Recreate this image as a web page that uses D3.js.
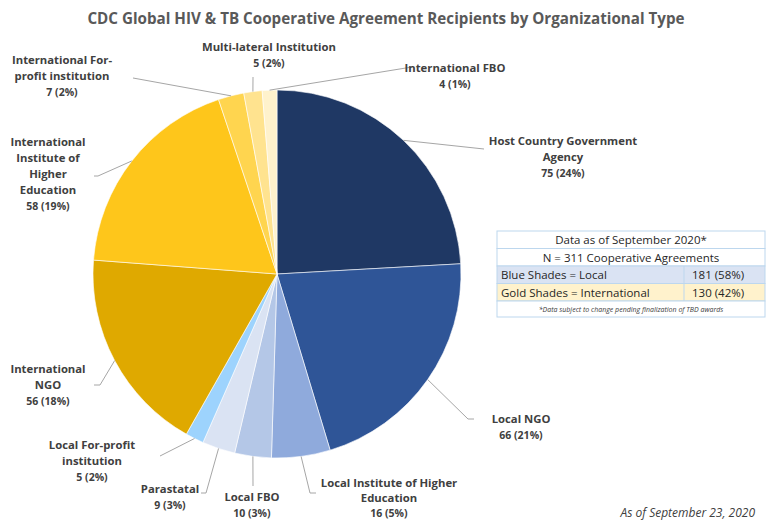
<!DOCTYPE html>
<html>
<head>
<meta charset="utf-8">
<script src="https://cdn.jsdelivr.net/npm/d3@7"></script>
<style>
  body { margin: 0; background: #fff; }
  svg { display: block; font-family: "Open Sans", "Noto Sans", sans-serif; }
</style>
</head>
<body>
<div id="chart"></div>
<script>
////////////
//  DATA  //
////////////

var categories = ["Host Country Government Agency", "Local NGO", "Local Institute of Higher Education",
  "Local FBO", "Parastatal", "Local For-profit institution", "International NGO",
  "International Institute of Higher Education", "International For-profit institution",
  "Multi-lateral Institution", "International FBO"];
var values = [75, 66, 16, 10, 9, 5, 56, 58, 7, 5, 4];

// how each label is broken on the chart
var labelLines = [["Host Country Government", "Agency"], ["Local NGO"], ["Local Institute of Higher", "Education"],
  ["Local FBO"], ["Parastatal"], ["Local For-profit", "institution"], ["International", "NGO"],
  ["International", "Institute of", "Higher", "Education"], ["International For-", "profit institution"],
  ["Multi-lateral Institution"], ["International FBO"]];

var tableRows = ["Data as of September 2020*", "N = 311 Cooperative Agreements"];
var groupNames = ["Blue Shades = Local", "Gold Shades = International"];
var groupValues = [181, 130];
var footNote = "*Data subject to change pending finalization of TBD awards";

//////////////
//  LAYOUT  //
//////////////

var W = 771, H = 520;
var cx = 277, cy = 274, R = 184;

var colors = ["#1f3864", "#2f5597", "#8faadc", "#b4c7e7", "#dae3f3", "#9dd3fd",
  "#dfa900", "#fec61b", "#ffd54f", "#ffe38f", "#fff2cc"];

// label text anchor (centre x, first baseline) and leader line path after the pie edge
var labelPos = [
  { x: 563, y: 145, leader: [[484, 149]] },
  { x: 521, y: 423, leader: [[468, 419], [474, 419]] },
  { x: 389, y: 487, leader: [[310, 493], [316, 493]] },
  { x: 252, y: 501, leader: [[253, 486]] },
  { x: 170, y: 493, leader: [[206, 493], [201, 493]] },
  { x: 92, y: 449, leader: [[160, 456]] },
  { x: 48, y: 373, leader: [[100, 385], [94, 385]] },
  { x: 48, y: 146, leader: [[98, 176], [94, 176]] },
  { x: 62, y: 64, leader: [[133, 78]] },
  { x: 269, y: 51, leader: [[253, 77]] },
  { x: 455, y: 72, leader: [[412, 67]] }
];

var svg = d3.select("#chart").append("svg")
  .attr("width", W).attr("height", H);

svg.append("text")
  .attr("x", 386).attr("y", 24)
  .attr("text-anchor", "middle")
  .style("font-size", "15.2px").style("font-weight", 700)
  .style("fill", "#595959")
  .text("CDC Global HIV & TB Cooperative Agreement Recipients by Organizational Type");

var data = categories.map(function (c, i) { return { name: c, value: values[i], i: i }; });
var total = d3.sum(values);

var pie = d3.pie().sort(null).value(function (d) { return d.value; });
var arcs = pie(data);
var arc = d3.arc().innerRadius(0).outerRadius(R);

var g = svg.append("g").attr("transform", "translate(" + cx + "," + cy + ")");

g.selectAll("path.slice")
  .data(arcs)
  .enter().append("path")
  .attr("class", "slice")
  .attr("d", arc)
  .attr("fill", function (d) { return colors[d.data.i]; })
  .attr("stroke", "#fff")
  .attr("stroke-width", 0.6);

// leader lines
var edgeArc = d3.arc().innerRadius(R).outerRadius(R);
arcs.forEach(function (d) {
  var p = edgeArc.centroid(d);
  var pts = [[cx + p[0], cy + p[1]]].concat(labelPos[d.data.i].leader);
  svg.append("path")
    .attr("d", d3.line()(pts))
    .attr("fill", "none")
    .attr("stroke", "#a6a6a6")
    .attr("stroke-width", 1);
});

// labels
arcs.forEach(function (d) {
  var lp = labelPos[d.data.i];
  var lines = labelLines[d.data.i];
  var step = d.data.i === 2 ? 15 : 16;
  var t = svg.append("text")
    .attr("text-anchor", "middle")
    .style("fill", "#404040");
  lines.forEach(function (l, k) {
    t.append("tspan")
      .attr("x", lp.x).attr("y", lp.y + k * step)
      .style("font-size", "11.3px").style("font-weight", 700)
      .text(l);
  });
  t.append("tspan")
    .attr("x", lp.x).attr("y", lp.y + lines.length * step)
    .style("font-size", "10.5px").style("font-weight", 700)
    .text(d.data.value + " (" + Math.round(d.data.value / total * 100) + "%)");
});

/////////////
//  TABLE  //
/////////////

var tx = 497, tw = 268, rh = 17.5, ty = 231, split = 684;
var tb = svg.append("g");
var border = "#bdd7ee";

tableRows.forEach(function (r, k) {
  tb.append("rect").attr("x", tx).attr("y", ty + k * rh).attr("width", tw).attr("height", rh)
    .attr("fill", "#fff").attr("stroke", border);
  tb.append("text").attr("x", tx + tw / 2).attr("y", ty + k * rh + 13)
    .attr("text-anchor", "middle").style("font-size", "11.5px").style("fill", "#262626").text(r);
});

var groupFill = ["#dae3f3", "#fff2cc"];
groupNames.forEach(function (n, k) {
  var y = ty + (k + 2) * rh;
  tb.append("rect").attr("x", tx).attr("y", y).attr("width", tw).attr("height", rh)
    .attr("fill", groupFill[k]).attr("stroke", border);
  tb.append("line").attr("x1", split).attr("x2", split).attr("y1", y).attr("y2", y + rh)
    .attr("stroke", border);
  tb.append("text").attr("x", tx + 4).attr("y", y + 13)
    .style("font-size", "11.5px").style("fill", "#262626").text(n);
  tb.append("text").attr("x", split + 8).attr("y", y + 13)
    .style("font-size", "11.5px").style("fill", "#262626")
    .text(groupValues[k] + " (" + Math.round(groupValues[k] / total * 100) + "%)");
});

var fy = ty + 4 * rh;
tb.append("rect").attr("x", tx).attr("y", fy).attr("width", tw).attr("height", 16)
  .attr("fill", "#fff").attr("stroke", border);
tb.append("text").attr("x", tx + tw / 2).attr("y", fy + 11)
  .attr("text-anchor", "middle").style("font-size", "7px").style("font-style", "italic")
  .style("fill", "#404040").text(footNote);

svg.append("text")
  .attr("x", 755).attr("y", 517)
  .attr("text-anchor", "end")
  .style("font-size", "12px").style("font-style", "italic")
  .style("fill", "#404040")
  .text("As of September 23, 2020");
</script>
</body>
</html>
